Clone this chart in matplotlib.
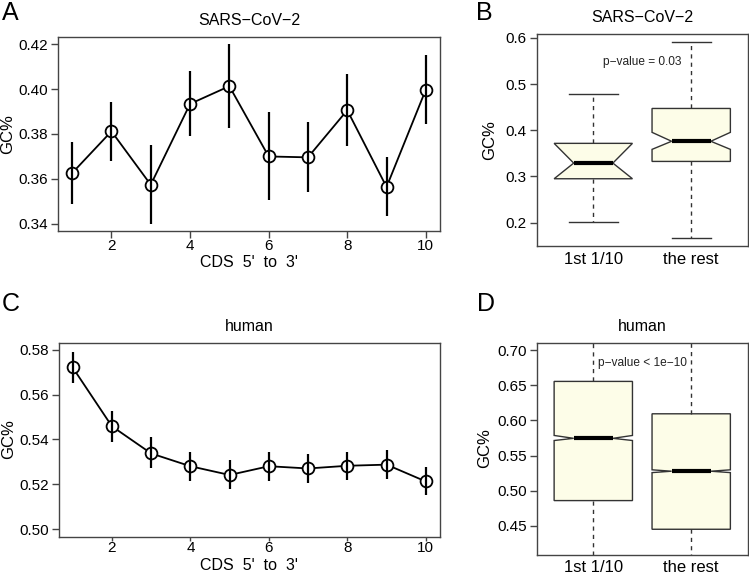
import numpy as np
import matplotlib.pyplot as plt

plt.rcParams['font.family'] = ['Liberation Sans', 'DejaVu Sans']

# CDS segments 5' to 3'
segments = np.arange(1, 11)

# SARS-CoV-2: mean GC% and error bar limits
sars_mean = [0.3626, 0.3812, 0.3574, 0.3934, 0.4013, 0.3700, 0.3696, 0.3906, 0.3564, 0.3998]
sars_lo = [0.3488, 0.3681, 0.3400, 0.3790, 0.3827, 0.3507, 0.3540, 0.3745, 0.3434, 0.3843]
sars_hi = [0.3766, 0.3943, 0.3749, 0.4081, 0.4201, 0.3896, 0.3852, 0.4068, 0.3696, 0.4154]

# human: mean GC% and error bar limits
human_mean = [0.5721, 0.5459, 0.5338, 0.5281, 0.5242, 0.5281, 0.5271, 0.5283, 0.5288, 0.5213]
human_lo = [0.5651, 0.5390, 0.5272, 0.5213, 0.5178, 0.5213, 0.5207, 0.5220, 0.5226, 0.5152]
human_hi = [0.5791, 0.5528, 0.5409, 0.5346, 0.5307, 0.5346, 0.5335, 0.5346, 0.5354, 0.5277]

# boxplot summaries: whislo, q1, cilo, med, cihi, q3, whishi
box_labels = ["1st 1/10", "the rest"]
sars_box = [
    [0.2007, 0.2951, 0.2951, 0.3290, 0.3717, 0.3717, 0.4775],
    [0.1669, 0.3326, 0.3587, 0.3762, 0.3955, 0.4472, 0.5906],
]
human_box = [
    [0.3600, 0.4857, 0.5714, 0.5745, 0.5786, 0.6557, 0.8000],
    [0.3000, 0.4448, 0.5256, 0.5276, 0.5296, 0.6095, 0.7800],
]
sars_p = "p\u2212value = 0.03"
human_p = "p\u2212value < 1e\u221210"

W, H = 749, 574
fig = plt.figure(figsize=(W / 100, H / 100), dpi=100)

spine_col = "#444444"
box_fill = "#fdfde8"


def px_axes(x0, y0, x1, y1):
    return fig.add_axes([x0 / W, 1 - y1 / H, (x1 - x0) / W, (y1 - y0) / H])


def style(ax):
    for s in ax.spines.values():
        s.set_color(spine_col)
        s.set_linewidth(1.0)
    ax.tick_params(direction="out", length=5, width=1.0, color=spine_col,
                   labelsize=11)
    ax.tick_params(axis="y", pad=2)
    ax.tick_params(axis="x", pad=1)


def line_panel(ax, mean, lo, hi, ylim, yticks, title, xlab_y):
    ax.plot(segments, mean, color="black", lw=1.3, zorder=1)
    ax.plot(segments, mean, "o", ms=8.5, mfc="white", mec="black", mew=1.3, zorder=2)
    ax.vlines(segments, lo, hi, color="black", lw=1.6, zorder=3)
    pad = 0.04 * (ylim[1] - ylim[0])
    ax.set_ylim(ylim[0] - pad, ylim[1] + pad)
    ax.set_xlim(1 - 0.36, 10 + 0.36)
    ax.set_yticks(yticks)
    ax.set_yticklabels([f"{t:.2f}" for t in yticks])
    ax.set_xticks([2, 4, 6, 8, 10])
    ax.set_xlabel("CDS  5'  to  3'", fontsize=11.5)
    ax.xaxis.set_label_coords(0.5, xlab_y)
    ax.set_ylabel("GC%", fontsize=12, va="center")
    ax.yaxis.set_label_coords(-0.132, 0.5)
    ax.set_title(title, fontsize=11.5, pad=8.5)
    style(ax)


def box_panel(ax, summaries, ylim, yticks, fmt, title, ptext, pty, capw, ylab_x):
    stats = []
    for s, lab in zip(summaries, box_labels):
        stats.append(dict(whislo=s[0], q1=s[1], cilo=s[2], med=s[3], cihi=s[4],
                          q3=s[5], whishi=s[6], fliers=[], label=lab))
    ax.bxp(stats, positions=[1, 2], widths=0.8, shownotches=True,
           patch_artist=True, showfliers=False, capwidths=capw,
           boxprops=dict(facecolor=box_fill, edgecolor="#333333", lw=1.0),
           whiskerprops=dict(color="#333333", lw=1.0, linestyle=(0, (3, 3))),
           capprops=dict(color="#333333", lw=1.0),
           medianprops=dict(color="black", lw=3, solid_capstyle="butt"))
    ax.set_xlim(0.42, 2.58)
    ax.set_ylim(*ylim)
    ax.set_yticks(yticks)
    ax.set_yticklabels([fmt.format(t) for t in yticks])
    ax.set_ylabel("GC%", fontsize=12, va="center")
    ax.yaxis.set_label_coords(ylab_x, 0.5)
    ax.set_title(title, fontsize=11.5, pad=8.5)
    ax.text(1.5, pty, ptext, ha="center", va="center", fontsize=8.6, color="#222222")
    style(ax)
    ax.tick_params(axis="x", length=0, pad=4, labelsize=12)


axA = px_axes(58, 37, 440, 231)
line_panel(axA, sars_mean, sars_lo, sars_hi, (0.34, 0.42),
           [0.34, 0.36, 0.38, 0.40, 0.42], "SARS\u2212CoV\u22122", -0.124)

axC = px_axes(58.5, 342.5, 440, 536.5)
line_panel(axC, human_mean, human_lo, human_hi, (0.50, 0.58),
           [0.50, 0.52, 0.54, 0.56, 0.58], "human", -0.112)
axC.tick_params(axis="x", length=3, pad=0)

axB = px_axes(536.5, 33.5, 748, 246)
box_panel(axB, sars_box, (0.1496, 0.6094), [0.2, 0.3, 0.4, 0.5, 0.6], "{:.1f}",
          "SARS\u2212CoV\u22122", sars_p, 0.5475, [0.5, 0.4], -0.22)

axD = px_axes(536.5, 342.5, 748, 554.5)
box_panel(axD, human_box, (0.4088, 0.7112), [0.45, 0.50, 0.55, 0.60, 0.65, 0.70],
          "{:.2f}", "human", human_p, 0.682, [0.4, 0.4], -0.243)

# panel letters
for lab, x, y in [("A", 2, 20), ("B", 476, 20), ("C", 2, 311), ("D", 477, 311)]:
    fig.text(x / W, 1 - y / H, lab, fontsize=18, ha="left", va="baseline")

fig.savefig("out.png", dpi=100)
